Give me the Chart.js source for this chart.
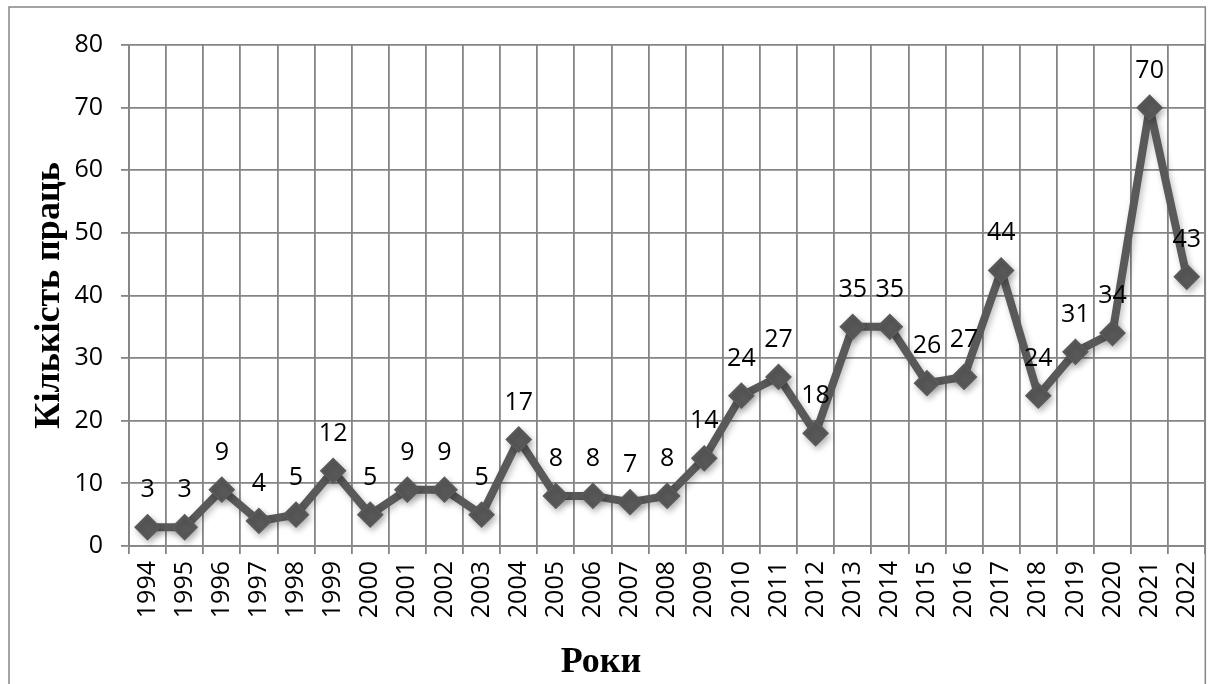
<!DOCTYPE html>
<html lang="uk">
<head>
<meta charset="utf-8">
<script src="https://cdn.jsdelivr.net/npm/chart.js@4/dist/chart.umd.min.js"></script>
<style>
    body { margin: 0; background: #fff; }
    #wrap { width: 1224px; height: 684px; position: relative; }
</style>
</head>
<body>
<div id="wrap"><canvas id="grafico"></canvas></div>
<script>
// роки (категорії) і кількість праць
const roki = ['1994', '1995', '1996', '1997', '1998', '1999', '2000', '2001', '2002', '2003',
    '2004', '2005', '2006', '2007', '2008', '2009', '2010', '2011', '2012', '2013',
    '2014', '2015', '2016', '2017', '2018', '2019', '2020', '2021', '2022'];
const kilkist = [3, 3, 9, 4, 5, 12, 5, 9, 9, 5, 17, 8, 8, 7, 8, 14, 24, 27, 18, 35, 35, 26, 27, 44, 24, 31, 34, 70, 43];

const yMin = 0;
const yMax = 80;
const yKrok = 10;

const tytulX = 'Роки';
const tytulY = 'Кількість праць';

const kolirLinii = '#595959';
const kolirSitky = '#858585';
const shryft = '"Open Sans", Lato, sans-serif';

// рамка, тінь, підписи даних і назви осей
const dodatky = {
    id: 'dodatky',
    beforeDraw(chart) {
        const ctx = chart.ctx;
        ctx.save();
        ctx.fillStyle = '#fff';
        ctx.fillRect(0, 0, chart.width, chart.height);
        ctx.strokeStyle = kolirSitky;
        ctx.lineWidth = 1.5;
        ctx.strokeRect(9, 7, chart.chartArea.right - 9, chart.height + 10);
        ctx.restore();
    },
    beforeDatasetsDraw(chart) {
        const ctx = chart.ctx;
        ctx.save();
        ctx.shadowColor = 'rgba(0,0,0,0.25)';
        ctx.shadowBlur = 6;
        ctx.shadowOffsetX = 2;
        ctx.shadowOffsetY = 3;
    },
    afterDatasetsDraw(chart) {
        const ctx = chart.ctx;
        ctx.restore();
        // підписи значень над точками
        const meta = chart.getDatasetMeta(0);
        ctx.save();
        ctx.fillStyle = '#000';
        ctx.font = '25px ' + shryft;
        ctx.textAlign = 'center';
        ctx.textBaseline = 'alphabetic';
        meta.data.forEach((p, i) => {
            ctx.fillText(String(kilkist[i]), p.x, p.y - 30);
        });
        // назви осей
        ctx.font = 'bold 36px "Liberation Serif", "Times New Roman", serif';
        ctx.fillText(tytulX, 601, 672);
        ctx.translate(59, (chart.chartArea.top + chart.chartArea.bottom) / 2);
        ctx.rotate(-Math.PI / 2);
        ctx.fillText(tytulY, 0, 0);
        ctx.restore();
    }
};

const ctx = document.getElementById('grafico').getContext('2d');
new Chart(ctx, {
    type: 'line',
    data: {
        labels: roki,
        datasets: [{
            data: kilkist,
            borderColor: kolirLinii,
            borderWidth: 8,
            borderJoinStyle: 'round',
            tension: 0,
            pointStyle: 'rectRot',
            pointRadius: 12,
            pointBorderWidth: 2,
            pointBackgroundColor: kolirLinii,
            pointBorderColor: kolirLinii
        }]
    },
    options: {
        responsive: true,
        maintainAspectRatio: false,
        animation: false,
        layout: { padding: { top: 45, right: 3, left: 0, bottom: 0 } },
        plugins: {
            legend: { display: false },
            tooltip: { enabled: false }
        },
        scales: {
            x: {
                offset: true,
                grid: { offset: true, color: kolirSitky, lineWidth: 1.8, tickLength: 8 },
                border: { color: kolirSitky, width: 1.8 },
                ticks: {
                    autoSkip: false,
                    minRotation: 90,
                    maxRotation: 90,
                    padding: 7,
                    color: '#000',
                    font: { family: shryft, size: 25 }
                },
                afterFit(s) { s.height = 138; }
            },
            y: {
                min: yMin,
                max: yMax,
                grid: { color: kolirSitky, lineWidth: 1.8, tickLength: 8 },
                border: { color: kolirSitky, width: 1.8 },
                ticks: {
                    stepSize: yKrok,
                    padding: 18,
                    color: '#000',
                    font: { family: shryft, size: 25 }
                },
                afterFit(s) { s.width = 129; }
            }
        }
    },
    plugins: [dodatky]
});
</script>
</body>
</html>
